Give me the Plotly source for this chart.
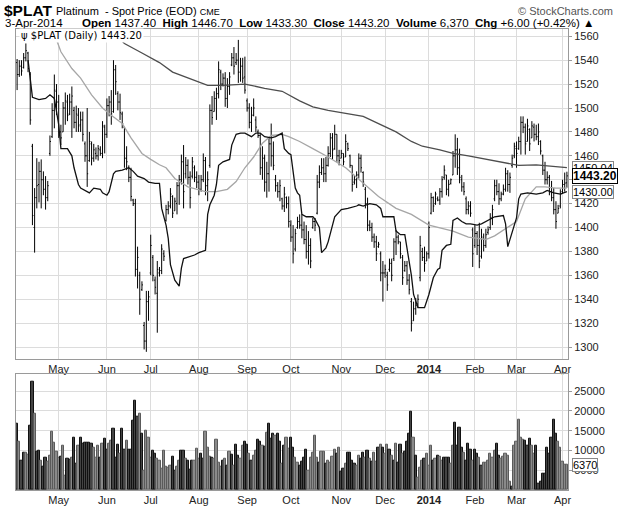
import plotly.graph_objects as go
import pandas as pd

# ---------------- data ----------------
holidays = ["2013-05-27", "2013-07-04", "2013-09-02", "2013-11-28", "2013-12-25",
            "2013-12-26", "2014-01-01", "2014-01-20", "2014-02-17"]
dates = [d for d in pd.bdate_range("2013-04-04", "2014-04-03")
         if d.strftime("%Y-%m-%d") not in holidays]

opens = [1538,1528,1535,1534,1542,1546,1528,1468,1400,1425,
         1436,1447,1440,1432,1425,1462,1476,1498,1514,1505,
         1480,1480,1500,1505,1495,1505,1498,1488,1494,1486,
         1490,1470,1460,1456,1470,1458,1462,1460,1465,1462,
         1484,1478,1502,1505,1497,1532,1512,1505,1495,1484,
         1458,1450,1442,1423,1420,1365,1360,1348,1318,1305,
         1338,1362,1375,1356,1345,1362,1364,1378,1406,1415,
         1418,1426,1414,1420,1435,1440,1455,1445,1452,1442,
         1443,1450,1442,1438,1432,1440,1456,1435,1452,1498,
         1497,1508,1512,1530,1520,1525,1508,1518,1536,1542,
         1538,1540,1530,1535,1526,1506,1500,1488,1494,1490,
         1480,1477,1450,1458,1438,1445,1470,1460,1440,1435,
         1430,1424,1418,1425,1420,1402,1392,1382,1400,1405,
         1402,1398,1390,1380,1385,1400,1405,1412,1438,1446,
         1450,1445,1452,1462,1475,1466,1478,1460,1458,1462,
         1459,1470,1460,1452,1438,1440,1444,1458,1446,1432,
         1420,1402,1400,1392,1388,1384,1378,1362,1362,1360,
         1365,1370,1374,1388,1392,1388,1375,1364,1368,1356,
         1338,1322,1332,1336,1358,1380,1375,1372,1378,1412,
         1425,1420,1424,1423,1430,1442,1444,1432,1437,1444,
         1460,1465,1450,1440,1434,1424,1415,1418,1398,1385,
         1395,1385,1376,1390,1385,1396,1400,1408,1424,1435,
         1430,1424,1428,1432,1445,1436,1452,1460,1466,1466,
         1472,1488,1484,1472,1482,1475,1484,1478,1476,1472,
         1460,1448,1440,1442,1430,1425,1415,1412,1418,1430,
         1436,1437.4]
highs = [1541,1540,1540,1546,1554,1547,1530,1470,1433,1458,
         1455,1457,1447,1443,1439,1477,1504,1528,1520,1511,
         1486,1505,1513,1511,1512,1518,1501,1502,1500,1497,
         1497,1472,1500,1480,1472,1470,1467,1469,1468,1489,
         1486,1508,1510,1515,1540,1536,1514,1512,1497,1484,
         1468,1452,1450,1424,1424,1384,1363,1355,1321,1347,
         1347,1394,1377,1359,1372,1367,1386,1381,1419,1422,
         1433,1427,1425,1438,1444,1461,1469,1459,1457,1447,
         1459,1452,1447,1444,1444,1462,1459,1447,1503,1510,
         1514,1517,1539,1532,1529,1530,1525,1530,1546,1551,
         1546,1557,1542,1542,1543,1508,1504,1501,1508,1493,
         1482,1479,1468,1461,1455,1475,1487,1472,1444,1438,
         1440,1425,1434,1426,1426,1406,1402,1399,1409,1411,
         1411,1405,1402,1397,1391,1408,1408,1444,1452,1458,
         1458,1459,1468,1479,1479,1486,1478,1465,1465,1462,
         1478,1471,1461,1452,1444,1447,1462,1461,1447,1434,
         1425,1406,1404,1395,1393,1388,1380,1372,1369,1363,
         1374,1374,1391,1398,1394,1388,1377,1372,1372,1361,
         1341,1338,1341,1344,1393,1383,1384,1380,1405,1429,
         1426,1430,1426,1433,1443,1452,1444,1440,1441,1464,
         1478,1475,1466,1444,1438,1426,1422,1422,1400,1402,
         1397,1404,1399,1395,1399,1401,1412,1419,1440,1440,
         1437,1430,1436,1450,1448,1446,1461,1471,1472,1476,
         1493,1493,1487,1491,1483,1489,1487,1486,1487,1473,
         1461,1455,1447,1444,1439,1433,1422,1419,1432,1440,
         1446,1446.7]
lows = [1515,1526,1527,1533,1539,1530,1486,1402,1379,1416,
        1421,1416,1427,1415,1422,1460,1475,1483,1494,1475,
        1469,1480,1486,1489,1494,1475,1483,1480,1480,1480,
        1472,1455,1434,1455,1452,1455,1457,1456,1460,1458,
        1462,1475,1493,1486,1496,1511,1498,1490,1483,1450,
        1448,1438,1422,1418,1359,1349,1327,1347,1298,1296,
        1322,1360,1355,1344,1312,1359,1361,1372,1405,1411,
        1416,1408,1414,1411,1419,1436,1416,1441,1436,1416,
        1441,1438,1433,1427,1430,1438,1427,1422,1450,1486,
        1497,1490,1508,1515,1518,1501,1500,1511,1535,1528,
        1536,1521,1522,1521,1512,1497,1483,1480,1493,1480,
        1475,1444,1440,1430,1425,1430,1451,1448,1430,1425,
        1422,1415,1413,1416,1400,1388,1370,1380,1399,1399,
        1391,1386,1374,1369,1366,1399,1397,1411,1433,1444,
        1438,1438,1451,1459,1457,1465,1455,1452,1458,1452,
        1459,1464,1450,1430,1436,1433,1441,1446,1434,1416,
        1397,1397,1388,1383,1372,1383,1355,1338,1358,1347,
        1363,1355,1372,1377,1386,1374,1352,1363,1352,1344,
        1313,1322,1327,1333,1355,1372,1363,1372,1374,1411,
        1413,1419,1422,1419,1425,1440,1427,1426,1436,1444,
        1450,1444,1437,1430,1427,1411,1411,1409,1367,1383,
        1377,1366,1374,1380,1383,1394,1398,1402,1422,1427,
        1419,1422,1427,1430,1430,1429,1450,1458,1450,1465,
        1461,1479,1461,1472,1464,1475,1472,1473,1469,1461,
        1444,1436,1436,1427,1422,1411,1399,1412,1416,1428,
        1430,1433.3]
closes = [1528,1535,1531,1542,1548,1533,1490,1410,1425,1435,
          1447,1440,1432,1425,1435,1472,1498,1515,1505,1480,
          1475,1500,1506,1494,1505,1510,1488,1495,1485,1490,
          1478,1460,1445,1472,1458,1465,1460,1466,1462,1485,
          1478,1502,1505,1495,1532,1522,1505,1496,1487,1458,
          1455,1442,1426,1420,1365,1375,1340,1352,1305,1338,
          1342,1385,1360,1350,1365,1364,1382,1376,1415,1418,
          1428,1412,1422,1435,1440,1455,1430,1452,1442,1425,
          1455,1442,1438,1432,1440,1456,1435,1440,1498,1492,
          1508,1512,1532,1520,1525,1508,1518,1526,1542,1535,
          1540,1530,1535,1525,1515,1500,1488,1494,1500,1484,
          1477,1450,1458,1438,1445,1470,1460,1452,1435,1430,
          1435,1418,1428,1420,1405,1392,1378,1395,1405,1402,
          1398,1390,1380,1385,1372,1405,1402,1438,1446,1450,
          1445,1452,1462,1475,1465,1478,1460,1456,1462,1455,
          1472,1466,1452,1436,1440,1444,1458,1450,1438,1420,
          1402,1400,1392,1388,1378,1386,1362,1362,1365,1352,
          1370,1360,1388,1392,1388,1378,1358,1368,1356,1348,
          1320,1332,1335,1340,1385,1375,1370,1378,1400,1425,
          1418,1428,1423,1430,1440,1448,1432,1436,1440,1460,
          1465,1450,1442,1434,1430,1415,1418,1412,1378,1395,
          1385,1372,1392,1385,1394,1398,1408,1415,1435,1430,
          1424,1428,1432,1445,1436,1442,1458,1468,1462,1472,
          1488,1484,1470,1485,1470,1485,1478,1476,1480,1464,
          1448,1440,1442,1430,1425,1415,1405,1416,1428,1436,
          1437.2,1443.2]

volume = [16800,12200,7300,9400,9400,9000,16400,27500,19200,9800,
          10000,7500,6000,8200,7100,8800,14700,11900,9600,8100,
          8500,11100,3700,7800,7600,8300,13200,6600,11100,13300,
          11600,12100,12100,11900,11800,10600,8100,11100,8100,11800,
          13000,10300,11800,12600,15400,8300,11500,9100,15400,10300,
          12600,10300,10300,17600,22700,18600,19400,14300,5000,15100,
          13300,8100,10000,9100,7800,7300,5400,10000,6000,5600,
          6200,8400,5000,5900,7400,9900,10000,7900,7500,5200,
          7300,7300,10500,7800,9200,7800,14700,10800,8400,8300,
          7800,12800,6900,5900,7300,7900,6200,9600,8900,6200,
          11500,8800,7800,11100,12300,11500,9200,7300,8600,10000,
          12800,12200,11100,10900,14500,16700,13000,14200,13800,14300,
          12300,6600,11300,13300,10500,13300,10600,8100,6900,6200,
          7100,8100,10300,5000,8300,9400,13700,8100,6800,9800,
          9800,6700,7500,6900,8500,10300,9100,10600,4700,5500,
          6600,9400,9500,7300,6700,6100,8800,7800,9400,8300,
          10000,7800,7100,9400,7100,10600,11500,10600,9100,11500,
          10300,8600,7500,11600,6900,11500,9100,9600,12200,14300,
          19700,13200,8800,3000,5700,7500,7900,9100,6200,11100,
          7500,7900,8800,8400,7300,8100,8100,8100,6600,11100,
          17000,11100,15700,10600,9500,7400,11600,10300,7300,10300,
          9200,8300,6100,6800,6800,7500,9100,8300,10000,11600,
          8600,7800,8400,9300,8600,2000,900,11300,12200,17900,
          13200,12700,12500,11100,13000,11300,9100,11100,1500,2200,
          4100,4200,10800,9100,13200,17900,14200,12200,10800,7100,
          6400,6370]
# u = up day (light bar), d = down day (dark bar)
vol_dir = "".join([
    "dudduuddud", "dudduuuuuu", "duudduddud", "ddddduuudu", "dduudddudd",
    "uddddduduu", "uudduuuuuu", "udduuddudd", "duuudduuud", "uuuudududu",
    "dduudduduu", "ddududddud", "duduudduud", "ddduuuuudu", "uduuuududd",
    "udddduuddu", "duduududuu", "dududduddd", "duduuuduuu", "duduuddduu",
    "ddddudddud", "duduuuuuud", "duuuuuduuu", "uuddduuddd", "ddddddduuu",
    "uu"])

# overlay lines: (trading-day index, value)
sma_slow_idx = [40, 45, 49, 57, 65, 71, 78, 87, 94, 104, 113, 121, 129, 135, 142, 150,
                158, 165, 173, 180, 185, 193, 199, 206, 214, 222, 229, 237, 244, 251]
sma_slow = [1570, 1561, 1554, 1546, 1538, 1530, 1525, 1519, 1519, 1520, 1516.5, 1514,
            1506, 1501, 1498, 1495.5, 1493, 1487, 1480, 1472, 1468, 1465, 1462, 1460,
            1457, 1454, 1452, 1452.5, 1451.5, 1450.04]
sma_mid_idx = [0, 10, 16, 20, 25, 29, 34, 39, 43, 48, 52, 57, 61, 65, 68, 72, 78, 86, 91,
               96, 100, 104, 108, 112, 116, 121, 124, 129, 135, 142, 150, 157, 165, 173,
               180, 188, 193, 199, 206, 214, 218, 222, 228, 232, 237, 241, 246, 251]
sma_mid = [1590, 1575, 1567, 1547, 1533, 1525, 1511, 1500, 1494, 1487, 1475, 1462, 1457,
           1452.5, 1450, 1441, 1434, 1430, 1430, 1432, 1438.5, 1450, 1459, 1470.6, 1477,
           1478, 1476, 1472, 1466, 1459, 1450, 1438.5, 1426, 1416, 1411, 1402, 1399.5,
           1397, 1392, 1390, 1393, 1398, 1405, 1424, 1434, 1434, 1433, 1433]
kama_idx = [5, 7, 10, 13, 15, 17, 19, 20, 23, 25, 26, 28, 29, 32, 33, 35, 38, 39, 41, 42,
            44, 45, 48, 51, 53, 55, 58, 60, 63, 65, 66, 68, 69, 70, 72, 74, 75, 76, 78, 80,
            81, 83, 86, 87, 88, 90, 91, 92, 94, 97, 98, 100, 102, 104, 105, 107, 109, 111,
            113, 116, 118, 121, 122, 124, 125, 127, 128, 129, 130, 132, 135, 136, 138, 139,
            141, 142, 144, 145, 148, 151, 155, 156, 158, 161, 164, 166, 167, 172, 173, 175,
            177, 179, 180, 181, 183, 186, 188, 190, 192, 193, 194, 196, 198, 199, 201, 203,
            205, 207, 210, 212, 215, 218, 222, 223, 224, 226, 228, 229, 230, 233, 237, 240,
            242, 245, 248, 251]
kama = [1540, 1509, 1507, 1508, 1511, 1508, 1486, 1466, 1466, 1460, 1450, 1436, 1433,
        1430, 1429, 1433, 1432, 1429, 1427, 1430, 1445, 1447, 1448, 1450, 1447, 1443,
        1441, 1438, 1437, 1437, 1416, 1402, 1391, 1369, 1356, 1351, 1366, 1374, 1375,
        1376, 1377, 1379, 1381, 1411, 1419, 1427, 1436, 1452, 1455, 1457, 1469, 1478,
        1479, 1479, 1478, 1476, 1479, 1479, 1476, 1475, 1476, 1479, 1466, 1462, 1461,
        1433, 1429, 1427, 1411, 1409, 1409, 1407, 1400, 1379, 1383, 1388, 1402, 1409,
        1415, 1416, 1418, 1419, 1418, 1420, 1419, 1416, 1409, 1409, 1397, 1394, 1394,
        1372, 1360, 1344, 1333, 1333, 1344, 1358, 1365, 1366, 1381, 1385, 1386, 1406,
        1408, 1405, 1403, 1403, 1402, 1403, 1406, 1409, 1410, 1403, 1384, 1397, 1408,
        1424, 1428, 1429, 1428, 1429, 1431, 1429, 1428, 1430.0]

month_names = ["May", "Jun", "Jul", "Aug", "Sep", "Oct", "Nov", "Dec", "<b>2014</b>",
               "Feb", "Mar", "Apr"]
price_ticks = [1300, 1320, 1340, 1360, 1380, 1400, 1420, 1440, 1460, 1480, 1500, 1520,
               1540, 1560]
vol_ticks = [5000, 10000, 15000, 20000, 25000]

# ---------------- figure ----------------
n = len(dates)
xs = list(range(n))
month_starts = [i for i in range(1, n) if dates[i].month != dates[i - 1].month]

W, H = 620, 507
ML, MR, MT, MB = 16, 52, 29, 17
PW, PH = W - ML - MR, H - MT - MB


def px(xp):
    return (xp - ML) / PW


def py(yp):
    return (H - MB - yp) / PH


FONT = "Liberation Sans, Arial, sans-serif"
GRID = "#dcdcdc"
FRAME = "#9a9a9a"

fig = go.Figure()
fig.add_trace(go.Ohlc(
    x=xs, open=opens, high=highs, low=lows, close=closes,
    increasing=dict(line=dict(color="black", width=1)),
    decreasing=dict(line=dict(color="black", width=1)),
    tickwidth=0.45, hoverinfo="skip", showlegend=False, xaxis="x", yaxis="y"))
fig.add_trace(go.Scatter(x=sma_mid_idx, y=sma_mid, mode="lines",
                         line=dict(color="#a6a6a6", width=1.3), hoverinfo="skip",
                         showlegend=False, xaxis="x", yaxis="y"))
fig.add_trace(go.Scatter(x=sma_slow_idx, y=sma_slow, mode="lines",
                         line=dict(color="#4d4d4d", width=1.3), hoverinfo="skip",
                         showlegend=False, xaxis="x", yaxis="y"))
fig.add_trace(go.Scatter(x=kama_idx, y=kama, mode="lines",
                         line=dict(color="#111111", width=1.3), hoverinfo="skip",
                         showlegend=False, xaxis="x", yaxis="y"))

fill = ["#8a8a8a" if c == "u" else "#444444" for c in vol_dir[:n]]
edge = ["#5a5a5a" if c == "u" else "#111111" for c in vol_dir[:n]]
fig.add_trace(go.Bar(x=xs, y=volume, width=1.0,
                     marker=dict(color=fill, line=dict(color=edge, width=1)),
                     hoverinfo="skip", showlegend=False, xaxis="x2", yaxis="y2"))

xcommon = dict(range=[-0.5, n - 0.5], tickmode="array", tickvals=month_starts,
               ticktext=month_names, showgrid=True, gridcolor=GRID, gridwidth=1,
               showline=True, mirror=True, linecolor=FRAME, linewidth=1,
               zeroline=False, ticks="", tickfont=dict(family=FONT, size=11, color="#222"),
               fixedrange=True, automargin=False)
ycommon = dict(side="right", tickmode="array", showgrid=True, gridcolor=GRID,
               showline=True, mirror=True, linecolor=FRAME, zeroline=False,
               ticks="outside", ticklen=3, tickcolor=FRAME,
               tickfont=dict(family=FONT, size=11, color="#222"), fixedrange=True,
               automargin=False)
fig.update_layout(
    width=W, height=H, margin=dict(l=ML, r=MR, t=MT, b=MB, autoexpand=False),
    paper_bgcolor="white", plot_bgcolor="white", bargap=0,
    xaxis=dict(**xcommon, anchor="y", domain=[0, 1], rangeslider=dict(visible=False)),
    xaxis2=dict(**xcommon, anchor="y2", domain=[0, 1], matches="x"),
    yaxis=dict(**ycommon, domain=[py(359), 1], range=[1290, 1566.1],
               tickvals=price_ticks, ticktext=[str(v) for v in price_ticks]),
    yaxis2=dict(**ycommon, domain=[0, py(373.7)], range=[0, 29440],
                tickvals=vol_ticks, ticktext=[str(v) for v in vol_ticks]),
)

last = n - 1
chg = closes[last] - closes[last - 1]
pct = chg / closes[last - 1] * 100
d = dates[last]
ann = []
ann.append(dict(text="<b>$PLAT</b>", x=px(2), y=py(10), xref="paper", yref="paper",
                xanchor="left", yanchor="middle", showarrow=False,
                font=dict(family=FONT, size=15.5, color="black")))
ann.append(dict(text="Platinum  - Spot Price (EOD) <span style='font-size:9px'>CME</span>",
                x=px(54), y=py(11), xref="paper", yref="paper",
                xanchor="left", yanchor="middle", showarrow=False,
                font=dict(family=FONT, size=11, color="black")))
ann.append(dict(text="© StockCharts.com", x=px(615), y=py(11), xref="paper", yref="paper",
                xanchor="right", yanchor="middle", showarrow=False,
                font=dict(family=FONT, size=11, color="#555")))
ann.append(dict(text=f"{d.day}-{d.strftime('%b-%Y')}", x=px(3), y=py(23.5),
                xref="paper", yref="paper", xanchor="left", yanchor="middle",
                showarrow=False, font=dict(family=FONT, size=11.5, color="black")))
line2 = (f"<b>Open</b> {opens[last]:.2f}  <b>High</b> {highs[last]:.2f}  "
         f"<b>Low</b> {lows[last]:.2f}  <b>Close</b> {closes[last]:.2f}  "
         f"<b>Volume</b> {volume[last]:,}  <b>Chg</b> {chg:+.2f} ({pct:+.2f}%) ▲")
ann.append(dict(text=line2.replace("  ", "&nbsp; "), x=px(596), y=py(23.5),
                xref="paper", yref="paper",
                xanchor="right", yanchor="middle", showarrow=False,
                font=dict(family=FONT, size=11.5, color="black")))
ann.append(dict(text=f"ψ $PLAT (Daily) {closes[last]:.2f}", x=px(19), y=py(36),
                xref="paper", yref="paper", xanchor="left", yanchor="middle",
                showarrow=False, bgcolor="white",
                font=dict(family="DejaVu Sans, sans-serif", size=10, color="black")))
for val, txt, col, bold in [(sma_slow[-1], f"{sma_slow[-1]:.2f}", "#888", False),
                            (kama[-1], f"{kama[-1]:.2f}", "#888", False),
                            (closes[last], f"<b>{closes[last]:.2f}</b>", "black", True)]:
    ann.append(dict(text=txt, x=1, y=val, xref="paper", yref="y", xanchor="left",
                    yanchor="middle", xshift=4, showarrow=False, bgcolor="white",
                    bordercolor=col, borderwidth=1, borderpad=0,
                    font=dict(family=FONT, size=11 if not bold else 12, color="black")))
ann.append(dict(text=f"{volume[last]}", x=1, y=volume[last], xref="paper", yref="y2",
                xanchor="left", yanchor="middle", xshift=4, showarrow=False,
                bgcolor="white", bordercolor="#888", borderwidth=1, borderpad=0,
                font=dict(family=FONT, size=11, color="black")))
fig.update_layout(annotations=ann)

fig.write_html("out.html", config={"displayModeBar": False})
